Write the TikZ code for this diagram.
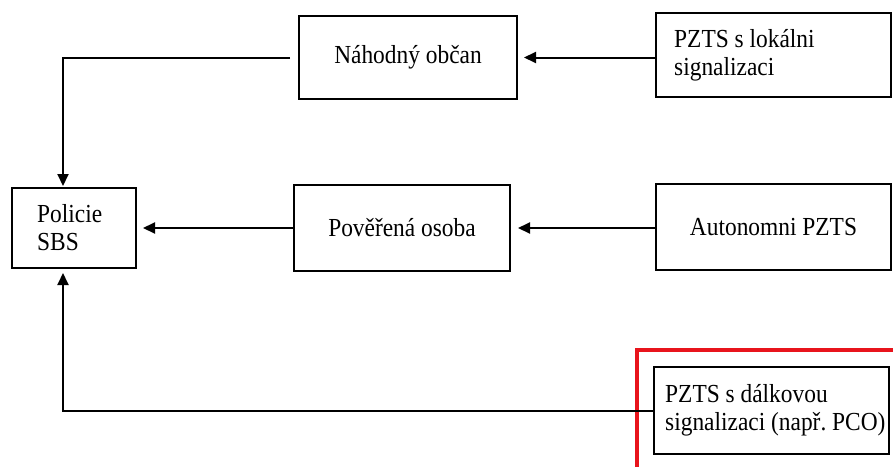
\documentclass[tikz,border=0pt]{standalone}
\usepackage{fontspec}
\setmainfont[FakeStretch=0.9]{Liberation Serif}
\usetikzlibrary{arrows.meta}
\definecolor{hl}{RGB}{232,20,28}
\begin{document}
\begin{tikzpicture}[x=1pt,y=-1pt,
  box/.style={draw=black, line width=2pt, inner sep=0pt},
  txt/.style={inner sep=0pt, align=left, anchor=west, font=\fontsize{26}{28}\selectfont},
  conn/.style={line width=2pt, -{Triangle[length=12pt,width=11pt]}},
  ]
\useasboundingbox (0,0) rectangle (893,466);
\clip (0,0) rectangle (893,466);
\fill[white] (0,0) rectangle (893,466);
% highlight
\node[draw=hl, line width=3.5pt, minimum width=270pt, minimum height=130pt, inner sep=0pt] (highlight) at (772,415) {};
% boxes
\node[box, minimum width=218pt, minimum height=83pt, font=\fontsize{26}{28}\selectfont] (nahodny) at (408,57.5) {Náhodný občan};
\node[box, minimum width=235pt, minimum height=84pt] (lokal) at (773.5,55) {};
\node[txt] (lokalt) at ([xshift=19pt]lokal.west) {PZTS s lokálni\\signalizaci};
\node[box, minimum width=124pt, minimum height=80pt] (policie) at (74,228) {};
\node[txt] (policiet) at ([xshift=26pt]policie.west) {Policie\\SBS};
\node[box, minimum width=216pt, minimum height=86pt, font=\fontsize{26}{28}\selectfont] (poverena) at (402,228) {Pověřená osoba};
\node[box, minimum width=235pt, minimum height=87pt] (dalkovou) at (771.5,410.5) {};
\node[txt] (dalkovout) at ([xshift=12pt]dalkovou.west) {PZTS s dálkovou\\signalizaci (např.\ PCO)};
\node[box, minimum width=235pt, minimum height=86pt, font=\fontsize{26}{28}\selectfont] (autonom) at (773.5,227) {Autonomni PZTS};
% connectors
\draw[conn, shorten >=6pt] (lokal.west |- nahodny.east) -- (nahodny.east);
\draw[conn, shorten <=8pt, shorten >=1pt] (nahodny.west) -| ([xshift=-11pt]policie.north);
\draw[conn, shorten >=6pt] (poverena.west) -- (policie.east |- poverena.west);
\draw[conn, shorten >=7pt] (autonom.west |- poverena.east) -- (poverena.east);
\draw[conn, shorten >=4pt] (dalkovou.west) -| ([xshift=-11pt]policie.south);
\end{tikzpicture}
\end{document}
